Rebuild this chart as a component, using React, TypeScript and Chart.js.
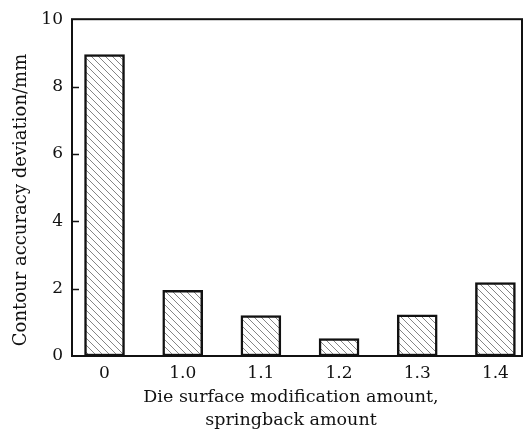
import React, { useEffect, useRef } from "react";
import { Chart, registerables } from "chart.js";

Chart.register(...registerables);

const categories = ["0", "1.0", "1.1", "1.2", "1.3", "1.4"];
const deviation = [8.95, 1.95, 1.2, 0.52, 1.22, 2.18];
const yTicks = [0, 2, 4, 6, 8, 10];
const yTitle = "Contour accuracy deviation/mm";
const xTitleLines = ["Die surface modification amount,", "springback amount"];

const FONT = "'DejaVu Serif', 'Liberation Serif', serif";

function makeHatch(): CanvasPattern | string {
  const s = 7;
  const c = document.createElement("canvas");
  c.width = s;
  c.height = s;
  const ctx = c.getContext("2d");
  if (!ctx) return "#ccc";
  ctx.fillStyle = "#ffffff";
  ctx.fillRect(0, 0, s, s);
  ctx.strokeStyle = "#858585";
  ctx.lineWidth = 1;
  for (const x0 of [-s, 0, s]) {
    ctx.beginPath();
    ctx.moveTo(x0, 0);
    ctx.lineTo(x0 + s, s);
    ctx.stroke();
  }
  const p = ctx.createPattern(c, "repeat");
  return p || "#ccc";
}

const framePlugin = {
  id: "frameAndTitles",
  afterDraw(chart: any) {
    const { ctx, chartArea } = chart;
    const ys = chart.scales.y;
    ctx.save();
    ctx.strokeStyle = "#111";
    ctx.lineWidth = 2;
    ctx.strokeRect(chartArea.left, chartArea.top, chartArea.right - chartArea.left, chartArea.bottom - chartArea.top);
    ctx.lineWidth = 1.5;
    for (const t of yTicks) {
      if (t === 0 || t === 10) continue;
      const py = Math.round(ys.getPixelForValue(t)) + 0.5;
      ctx.beginPath();
      ctx.moveTo(chartArea.left, py);
      ctx.lineTo(chartArea.left + 7, py);
      ctx.stroke();
    }
    ctx.fillStyle = "#111";
    ctx.textAlign = "center";
    ctx.textBaseline = "middle";
    ctx.font = `17.5px ${FONT}`;
    ctx.fillText(xTitleLines[0], 291, 397);
    ctx.fillText(xTitleLines[1], 291, 420);
    ctx.font = `18px ${FONT}`;
    ctx.translate(21, 200);
    ctx.rotate(-Math.PI / 2);
    ctx.fillText(yTitle, 0, 0);
    ctx.restore();
  },
};

export default function App() {
  const ref = useRef<HTMLCanvasElement | null>(null);

  useEffect(() => {
    if (!ref.current) return;
    const hatch = makeHatch();
    const chart = new Chart(ref.current, {
      type: "bar",
      data: {
        datasets: [
          {
            data: deviation.map((v, i) => ({ x: i, y: v })),
            backgroundColor: hatch as any,
            borderColor: "#111",
            borderWidth: 2.5,
            borderSkipped: false,
            barThickness: 40,
          },
        ],
      },
      options: {
        animation: false,
        responsive: false,
        layout: { padding: { left: 0, top: 12, right: 2, bottom: 0 } },
        plugins: { legend: { display: false }, tooltip: { enabled: false } },
        scales: {
          x: {
            type: "linear",
            offset: false,
            min: -0.416,
            max: 5.34,
            grid: { display: false, drawTicks: false, offset: false },
            border: { display: false },
            afterBuildTicks: (s: any) => {
              s.ticks = categories.map((_, i) => ({ value: i }));
            },
            afterFit: (s: any) => {
              s.height = 74;
            },
            ticks: {
              padding: 7,
              color: "#111",
              font: { family: FONT, size: 17 },
              maxRotation: 0,
              autoSkip: false,
              callback: (v: any) => categories[v] ?? "",
            },
          },
          y: {
            min: 0,
            max: 10,
            grid: { display: false, drawTicks: false },
            border: { display: false },
            afterBuildTicks: (s: any) => {
              s.ticks = yTicks.map((v) => ({ value: v }));
            },
            afterFit: (s: any) => {
              s.width = 72;
            },
            ticks: {
              padding: 9,
              color: "#111",
              font: { family: FONT, size: 17 },
            },
          },
        },
      },
      plugins: [framePlugin],
    });
    return () => chart.destroy();
  }, []);

  return (
    <div style={{ position: "absolute", left: 0, top: 0, width: 524, height: 430, background: "#fff" }}>
      <canvas ref={ref} width={524} height={430} style={{ display: "block" }} />
    </div>
  );
}
